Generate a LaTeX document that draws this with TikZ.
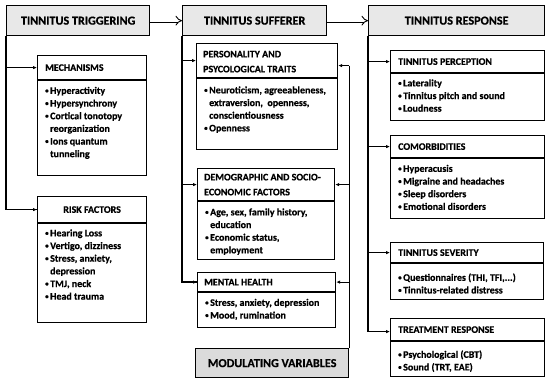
\documentclass[tikz,border=0pt]{standalone}
\usepackage{fontspec}
\usepackage{graphicx}
\setmainfont{Carlito}[BoldFeatures={FakeBold=0.6}]
\usetikzlibrary{arrows.meta}
\newcommand{\itm}[1]{\par\hangindent=5bp\hangafter=1\noindent\makebox[5bp][l]{\raisebox{1bp}{\scalebox{0.7}{\textbullet}}}#1}
\newcommand{\blist}[2]{\parbox[t]{#1}{\raggedright\fontsize{10}{12.7}\selectfont\bfseries #2}}
\tikzset{
  mainhdr/.style={draw, line width=1.3bp, fill=black!9, inner sep=0, anchor=north west, font=\fontsize{12.2}{14}\selectfont\bfseries},
  subhdr/.style={draw, line width=1.2bp, inner sep=0, anchor=north west},
  sublbl/.style={inner sep=0, anchor=west, align=left, font=\fontsize{10}{15}\selectfont\bfseries},
  bodbox/.style={draw, line width=1.2bp, inner sep=0, anchor=north west},
  txt/.style={inner sep=0, anchor=north west},
  trunk/.style={line width=1.5bp},
  arr/.style={line width=1bp, -{Latex[length=4bp,width=3.5bp]}},
  dbl/.style={double, double distance=2.4bp, line width=0.9bp, -{Implies}}
}
\begin{document}
\begin{tikzpicture}[x=1bp,y=-1bp]
\useasboundingbox (0,0) rectangle (550,385);
% main headers
\node[mainhdr, minimum width=143bp, minimum height=30bp] (trigH) at (6,5) {TINNITUS TRIGGERING};
\node[mainhdr, minimum width=144bp, minimum height=30bp] (sufH) at (182,5) {TINNITUS SUFFERER};
\node[mainhdr, minimum width=176bp, minimum height=30bp] (respH) at (368,5) {TINNITUS RESPONSE};
\node[mainhdr, fill=black!14, minimum width=153bp, minimum height=29bp] (mv) at (195,348) {MODULATING VARIABLES};

% ---- left column
\node[subhdr, minimum width=109bp, minimum height=24bp] (mechH) at (37,55) {};
\node[sublbl] (mechL) at ([xshift=8bp]mechH.west) {MECHANISMS};
\node[bodbox, minimum width=109bp, minimum height=95bp] (mechB) at (mechH.south west) {};
\node[txt] (mechT) at ([shift={(8bp,-6.5bp)}]mechH.south west) {\blist{98bp}{%
\itm{Hyperactivity}\itm{Hypersynchrony}\itm{Cortical tonotopy\newline reorganization}\itm{Ions quantum\newline tunneling}}};

\node[subhdr, minimum width=109bp, minimum height=26bp] (riskH) at (37,196) {};
\node[sublbl, anchor=center] (riskL) at (riskH.center) {RISK FACTORS};
\node[bodbox, minimum width=109bp, minimum height=99bp] (riskB) at (riskH.south west) {};
\node[txt] (riskT) at ([shift={(8bp,-6bp)}]riskH.south west) {\blist{98bp}{%
\itm{Hearing Loss}\itm{Vertigo, dizziness}\itm{Stress, anxiety,\newline depression}\itm{TMJ, neck}\itm{Head trauma}}};

% ---- middle column
\node[subhdr, minimum width=141bp, minimum height=34bp] (persH) at (196,43) {};
\node[sublbl] (persL) at ([xshift=7bp,yshift=-1bp]persH.west) {PERSONALITY AND\\PSYCOLOGICAL TRAITS};
\node[bodbox, minimum width=141bp, minimum height=71bp] (persB) at (persH.south west) {};
\node[txt] (persT) at ([shift={(8bp,-8bp)}]persH.south west) {\blist{132bp}{%
\itm{Neuroticism, agreeableness,\newline extraversion,\ \ openness,\newline conscientiousness}\itm{Openness}}};

\node[subhdr, minimum width=137bp, minimum height=32bp] (demoH) at (197,168) {};
\node[sublbl] (demoL) at ([xshift=7bp]demoH.west) {DEMOGRAPHIC AND SOCIO-\\ECONOMIC FACTORS};
\node[bodbox, minimum width=137bp, minimum height=58bp] (demoB) at (demoH.south west) {};
\node[txt] (demoT) at ([shift={(8bp,-7bp)}]demoH.south west) {\blist{128bp}{%
\itm{Age, sex, family history,\newline education}\itm{Economic status,\newline employment}}};

\node[subhdr, minimum width=138bp, minimum height=19bp] (mentH) at (197,272) {};
\node[sublbl] (mentL) at ([xshift=7bp]mentH.west) {MENTAL HEALTH};
\node[bodbox, minimum width=138bp, minimum height=35bp] (mentB) at (mentH.south west) {};
\node[txt] (mentT) at ([shift={(8bp,-6.5bp)}]mentH.south west) {\blist{130bp}{%
\itm{Stress, anxiety, depression}\itm{Mood, rumination}}};

% ---- right column
\node[subhdr, minimum width=154bp, minimum height=22bp] (percH) at (390,50) {};
\node[sublbl] (percL) at ([xshift=8bp]percH.west) {TINNITUS PERCEPTION};
\node[bodbox, minimum width=154bp, minimum height=47bp] (percB) at (percH.south west) {};
\node[txt] (percT) at ([shift={(8bp,-6bp)}]percH.south west) {\blist{145bp}{%
\itm{Laterality}\itm{Tinnitus pitch and sound}\itm{Loudness}}};

\node[subhdr, minimum width=154bp, minimum height=22bp] (comH) at (390,135) {};
\node[sublbl] (comL) at ([xshift=8bp]comH.west) {COMORBIDITIES};
\node[bodbox, minimum width=154bp, minimum height=60bp] (comB) at (comH.south west) {};
\node[txt] (comT) at ([shift={(8bp,-6.5bp)}]comH.south west) {\blist{145bp}{%
\itm{Hyperacusis}\itm{Migraine and headaches}\itm{Sleep disorders}\itm{Emotional disorders}}};

\node[subhdr, minimum width=153bp, minimum height=20bp] (sevH) at (390,242) {};
\node[sublbl] (sevL) at ([xshift=8bp]sevH.west) {TINNITUS SEVERITY};
\node[bodbox, minimum width=153bp, minimum height=36bp] (sevB) at (sevH.south west) {};
\node[txt] (sevT) at ([shift={(8bp,-10bp)}]sevH.south west) {\blist{145bp}{%
\itm{Questionnaires (THI, TFI,...)}\itm{Tinnitus-related distress}}};

\node[subhdr, minimum width=154bp, minimum height=22bp] (treatH) at (390,318) {};
\node[sublbl] (treatL) at ([xshift=8bp]treatH.west) {TREATMENT RESPONSE};
\node[bodbox, minimum width=154bp, minimum height=35bp] (treatB) at (treatH.south west) {};
\node[txt] (treatT) at ([shift={(8bp,-9bp)}]treatH.south west) {\blist{145bp}{%
\itm{Psychological (CBT)}\itm{Sound (TRT, EAE)}}};

% ---- connectors
\draw[dbl] (trigH.east) -- (sufH.west);
\draw[dbl] (sufH.east) -- (respH.west);

\draw[trunk] (trigH.south west) |- (riskH.west);
\draw[arr] (trigH.south west |- riskH.west) -- (riskH.west);
\draw[arr] (trigH.south west |- mechH.west) -- (mechH.west);

\draw[trunk] (sufH.south west) |- (mentH.west);
\draw[arr] (sufH.south west |- mentH.west) -- (mentH.west);
\draw[arr] (sufH.south west |- demoH.west) -- (demoH.west);
\draw[arr] (sufH.south west |- persH.west) -- (persH.west);

\coordinate (mvtop) at ([yshift=-5bp]mv.north east |- persH.east);
\draw[trunk] (mv.north east) -- (mvtop);
\draw[arr] (mvtop) -- ([yshift=-5bp]persH.east);
\draw[arr] (mv.north east |- demoH.east) -- (demoH.east);
\draw[arr] (mv.north east |- mentH.east) -- (mentH.east);

\coordinate (rbot) at ([yshift=-2bp]respH.south west |- treatH.west);
\draw[trunk] (respH.south west) -- (rbot);
\draw[arr] (rbot) -- ([yshift=-2bp]treatH.west);
\draw[arr] (respH.south west |- sevH.west) -- (sevH.west);
\draw[arr] (respH.south west |- comH.west) -- (comH.west);
\draw[arr] (respH.south west |- percH.west) -- (percH.west);
\end{tikzpicture}
\end{document}
